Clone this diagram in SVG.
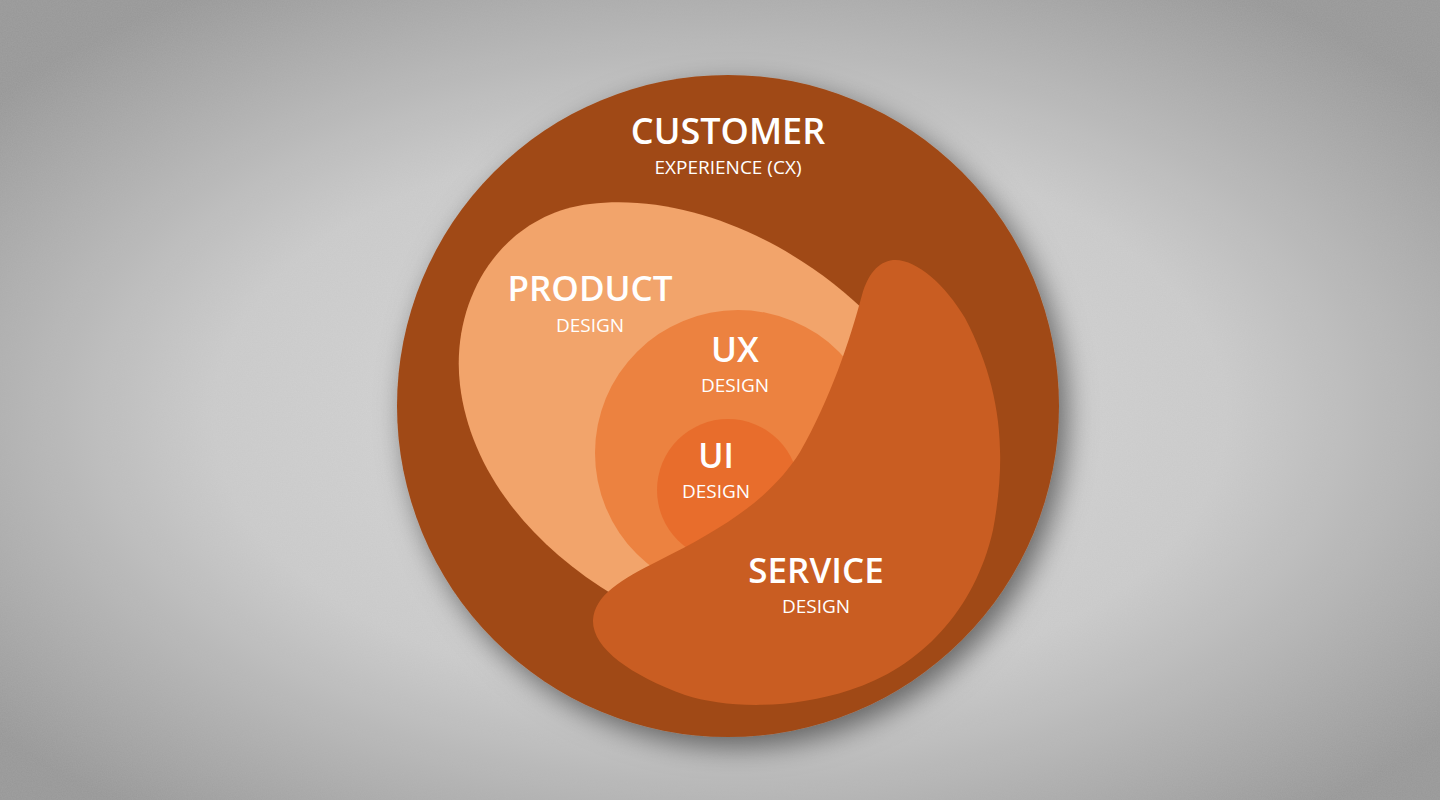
<svg xmlns="http://www.w3.org/2000/svg" width="1440" height="800" viewBox="0 0 1440 800">
<defs>
<radialGradient id="bg" cx="0.5" cy="0.52" r="0.64">
<stop offset="0" stop-color="#dcdcdc"/>
<stop offset="0.55" stop-color="#cdcdcd"/>
<stop offset="1" stop-color="#979797"/>
</radialGradient>
<filter id="noise" x="0" y="0" width="100%" height="100%">
<feTurbulence type="fractalNoise" baseFrequency="0.8" numOctaves="2" seed="3"/>
<feColorMatrix type="matrix" values="0 0 0 0 0.5  0 0 0 0 0.5  0 0 0 0 0.5  0 0 0 0.25 0"/>
</filter>
<filter id="shadow" x="-20%" y="-20%" width="140%" height="140%">
<feDropShadow dx="8" dy="10" stdDeviation="14" flood-color="#000" flood-opacity="0.5"/>
</filter>
<style>
.title{font-family:"Open Sans","Liberation Sans",sans-serif;font-weight:600;fill:#ffffff;text-anchor:middle}
.sub{font-family:"Open Sans","Liberation Sans",sans-serif;font-weight:400;fill:#ffffff;text-anchor:middle;font-size:19px}
</style>
</defs>
<rect width="1440" height="800" fill="url(#bg)"/>
<rect width="1440" height="800" filter="url(#noise)"/>
<g id="customer">
<circle cx="728" cy="406" r="331" fill="#a04a18" filter="url(#shadow)"/>
<text class="title" x="728" y="144" font-size="36">CUSTOMER</text>
<text class="sub" x="728" y="174">EXPERIENCE (CX)</text>
</g>
<g id="product">
<path d="M615,596 C530,545 470,470 460,385 C450,300 500,215 590,204 C690,192 800,245 872,318 L870,520 L700,600 Z" fill="#f2a46b"/>
<text class="title" x="590" y="301" font-size="35">PRODUCT</text>
<text class="sub" x="590" y="332">DESIGN</text>
</g>
<g id="ux">
<circle cx="738" cy="453" r="143" fill="#ec8240"/>
<text class="title" x="735" y="362" font-size="35">UX</text>
<text class="sub" x="735" y="392">DESIGN</text>
</g>
<g id="ui">
<circle cx="728" cy="490" r="71" fill="#e86d2c"/>
<text class="title" x="716" y="468" font-size="34">UI</text>
<text class="sub" x="716" y="498">DESIGN</text>
</g>
<g id="service">
<path d="M893,260 C878,262 868,274 862,295 C850,340 830,400 800,452 C770,500 720,530 660,560 C620,580 595,595 593,620 C592,648 630,675 685,695 C725,708 790,710 850,690 C920,668 975,610 993,530 C1008,450 1000,385 965,318 C945,284 915,258 893,260 Z" fill="#c95d22"/>
<text class="title" x="816" y="583" font-size="35">SERVICE</text>
<text class="sub" x="816" y="613">DESIGN</text>
</g>
<g id="connectors"/>
</svg>
